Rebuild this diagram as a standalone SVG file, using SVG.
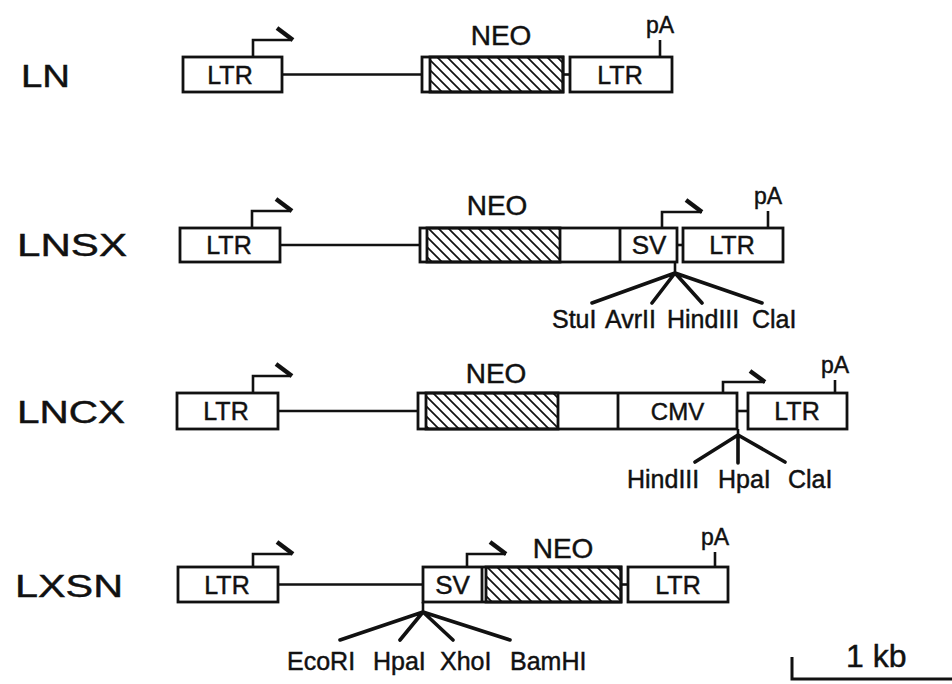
<svg xmlns="http://www.w3.org/2000/svg" width="952" height="684" viewBox="0 0 952 684">
<defs>
  <pattern id="hatch" patternUnits="userSpaceOnUse" width="10" height="10">
    <path d="M-5,-5 L15,15 M-5,5 L5,15 M5,-5 L15,5" stroke="#111" stroke-width="1.7"/>
  </pattern>
</defs>
<style>
  .box{fill:#fff;stroke:#111;stroke-width:2.8}
  .neo{fill:url(#hatch);stroke:#111;stroke-width:2.8}
  .div{stroke:#111;stroke-width:2.8;fill:none}
  .ln{stroke:#111;stroke-width:2.6;fill:none}
  .site{stroke:#111;stroke-width:3.6;fill:none;stroke-linecap:round}
  .prom{stroke:#111;stroke-width:2.6;fill:none}
  .wedge{stroke:#111;stroke-width:4.4;stroke-linecap:butt}
  text{font-family:"Liberation Sans",Arial,Helvetica,sans-serif;fill:#111;stroke:#111;stroke-width:0.45}
  .lbl{font-size:32px}
  .big{font-size:28px;text-anchor:middle}
  .in{font-size:25px;text-anchor:middle}
  .pa{font-size:23px;text-anchor:middle}
  .enz{font-size:25px}
</style>
<rect width="952" height="684" fill="#fff"/>

<g id="connectors">
  <!-- backbones -->
  <line class="ln" x1="282" y1="74.5" x2="422" y2="74.5"/>
  <line class="ln" x1="563" y1="74.5" x2="570" y2="74.5"/>
  <line class="ln" x1="280" y1="245" x2="420" y2="245"/>
  <line class="ln" x1="677" y1="245" x2="683" y2="245"/>
  <line class="ln" x1="278" y1="411" x2="418" y2="411"/>
  <line class="ln" x1="737" y1="411" x2="748" y2="411"/>
  <line class="ln" x1="278" y1="584.5" x2="423" y2="584.5"/>
  <line class="ln" x1="621" y1="584.5" x2="628" y2="584.5"/>
  <!-- restriction site pointers -->
  <path class="ln" d="M675,262 V273"/>
  <path class="site" d="M675,273 L592,303 M675,273 L652,303 M675,273 L702,303 M675,273 L762,303"/>
  <path class="ln" d="M738,429 V435"/>
  <path class="site" d="M738,435 L695,462 M738,435 L738,463 M738,435 L785,462"/>
  <path class="ln" d="M423,602 V612"/>
  <path class="site" d="M423,612 L340,640 M423,612 L400,640 M423,612 L453,640 M423,612 L510,640"/>
</g>

<g id="LN">
  <text class="lbl" x="21" y="87" textLength="49" lengthAdjust="spacingAndGlyphs">LN</text>
  <g id="LN-LTR5">
    <rect class="box" x="183" y="57" width="99" height="35"/>
    <text class="in" x="230" y="83.5">LTR</text>
    <path class="prom" d="M253,57 V40 H292"/>
    <line class="wedge" x1="277" y1="28" x2="293" y2="40"/>
  </g>
  <g id="LN-NEO">
    <rect class="box" x="422" y="57" width="141" height="35"/>
    <rect class="neo" x="430" y="57" width="133" height="35"/>
    <text class="big" x="501" y="45">NEO</text>
  </g>
  <g id="LN-LTR3">
    <rect class="box" x="570" y="57" width="102" height="35"/>
    <text class="in" x="620" y="83.5">LTR</text>
    <line class="prom" x1="660" y1="40" x2="660" y2="57"/>
    <text class="pa" x="660" y="33">pA</text>
  </g>
</g>

<g id="LNSX">
  <text class="lbl" x="17" y="256" textLength="110" lengthAdjust="spacingAndGlyphs">LNSX</text>
  <g id="LNSX-LTR5">
    <rect class="box" x="180" y="228" width="100" height="34"/>
    <text class="in" x="229" y="254">LTR</text>
    <path class="prom" d="M252,228 V211 H291"/>
    <line class="wedge" x1="276" y1="199" x2="292" y2="211"/>
  </g>
  <g id="LNSX-NEO">
    <rect class="box" x="420" y="228" width="257" height="34"/>
    <rect class="neo" x="427" y="228" width="133" height="34"/>
    <text class="big" x="497" y="215">NEO</text>
  </g>
  <g id="LNSX-SV">
    <line class="div" x1="620" y1="228" x2="620" y2="262"/>
    <text class="in" x="649" y="254" style="font-size:26px">SV</text>
    <path class="prom" d="M662,228 V212 H702"/>
    <line class="wedge" x1="686" y1="200" x2="702" y2="212"/>
  </g>
  <g id="LNSX-LTR3">
    <rect class="box" x="683" y="228" width="100" height="34"/>
    <text class="in" x="732" y="254">LTR</text>
    <line class="prom" x1="768" y1="211" x2="768" y2="228"/>
    <text class="pa" x="768" y="204">pA</text>
  </g>
  <g id="LNSX-sites" class="enz">
    <text x="552" y="328">StuI</text>
    <text x="605" y="328">AvrII</text>
    <text x="667" y="328">HindIII</text>
    <text x="752" y="328">ClaI</text>
  </g>
</g>

<g id="LNCX">
  <text class="lbl" x="17" y="423" textLength="108" lengthAdjust="spacingAndGlyphs">LNCX</text>
  <g id="LNCX-LTR5">
    <rect class="box" x="177" y="393" width="101" height="36"/>
    <text class="in" x="226" y="420">LTR</text>
    <path class="prom" d="M253,393 V376 H291"/>
    <line class="wedge" x1="276" y1="364" x2="292" y2="376"/>
  </g>
  <g id="LNCX-NEO">
    <rect class="box" x="418" y="393" width="319" height="36"/>
    <rect class="neo" x="426" y="393" width="132" height="36"/>
    <text class="big" x="496" y="383">NEO</text>
  </g>
  <g id="LNCX-CMV">
    <line class="div" x1="618" y1="393" x2="618" y2="429"/>
    <text class="in" x="677.5" y="419.5" style="font-size:24px">CMV</text>
    <path class="prom" d="M723,393 V382 H765"/>
    <line class="wedge" x1="750" y1="371" x2="765" y2="382"/>
  </g>
  <g id="LNCX-LTR3">
    <rect class="box" x="748" y="393" width="99" height="36"/>
    <text class="in" x="797" y="420">LTR</text>
    <line class="prom" x1="835" y1="380" x2="835" y2="393"/>
    <text class="pa" x="835" y="373">pA</text>
  </g>
  <g id="LNCX-sites" class="enz">
    <text x="627" y="488">HindIII</text>
    <text x="718" y="488">HpaI</text>
    <text x="788" y="488">ClaI</text>
  </g>
</g>

<g id="LXSN">
  <text class="lbl" x="15" y="597" textLength="108" lengthAdjust="spacingAndGlyphs">LXSN</text>
  <g id="LXSN-LTR5">
    <rect class="box" x="178" y="567" width="100" height="35"/>
    <text class="in" x="227" y="593.5">LTR</text>
    <path class="prom" d="M253,567 V554 H291"/>
    <line class="wedge" x1="277" y1="542" x2="293" y2="554"/>
  </g>
  <g id="LXSN-SV">
    <rect class="box" x="423" y="567" width="198" height="35"/>
    <line class="div" x1="482" y1="567" x2="482" y2="602"/>
    <text class="in" x="452.5" y="594" style="font-size:26px">SV</text>
    <path class="prom" d="M467,567 V554 H506"/>
    <line class="wedge" x1="490" y1="542" x2="506" y2="554"/>
  </g>
  <g id="LXSN-NEO">
    <rect class="neo" x="486" y="567" width="135" height="35"/>
    <text class="big" x="563" y="558">NEO</text>
  </g>
  <g id="LXSN-LTR3">
    <rect class="box" x="628" y="567" width="100" height="35"/>
    <text class="in" x="678" y="593.5">LTR</text>
    <line class="prom" x1="715" y1="552" x2="715" y2="567"/>
    <text class="pa" x="715" y="545">pA</text>
  </g>
  <g id="LXSN-sites" class="enz">
    <text x="287" y="670">EcoRI</text>
    <text x="373" y="670">HpaI</text>
    <text x="440" y="670">XhoI</text>
    <text x="510" y="670">BamHI</text>
  </g>
</g>

<g id="scalebar">
  <path d="M792,657 V679 H952" fill="none" stroke="#111" stroke-width="3"/>
  <text x="846" y="667" style="font-size:32px">1 kb</text>
</g>
</svg>
